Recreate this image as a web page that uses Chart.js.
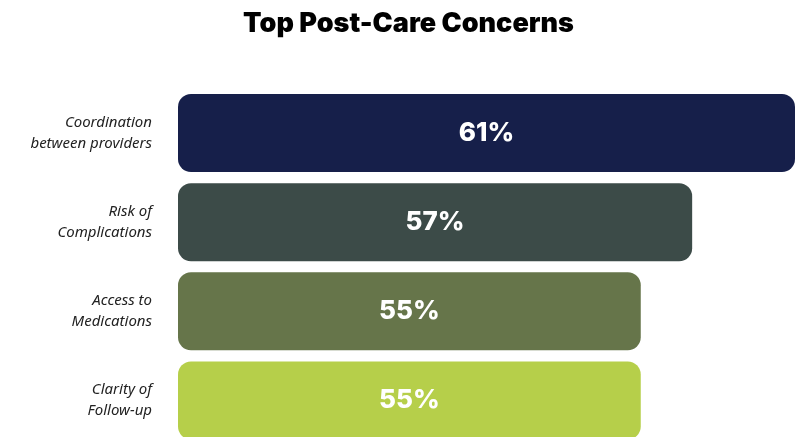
<!DOCTYPE html>
<html>
<head>
<meta charset="utf-8">
<script src="https://cdn.jsdelivr.net/npm/chart.js@4"></script>
<style>
  html, body { margin: 0; padding: 0; overflow: hidden; background: #fff; }
  canvas { display: block; }
</style>
</head>
<body>
<canvas id="myChart" width="795" height="492"></canvas>
<script>
// chart data
const categories = [
    ["Coordination", "between providers"],
    ["Risk of", "Complications"],
    ["Access to", "Medications"],
    ["Clarity of", "Follow-up"]
]
const values = [61, 57, 55, 55]
const barColors = ["#161f4a", "#3c4b48", "#66754a", "#b6cf4a"]
// value axis does not start at zero in the original
const axisMin = 37
const axisMax = 61

// writes the percent in the middle of each bar
const valueLabels = {
    id: "valueLabels",
    afterDatasetsDraw(chart) {
        const ctx = chart.ctx
        const meta = chart.getDatasetMeta(0)
        ctx.save()
        ctx.fillStyle = "#ffffff"
        ctx.font = "800 26px Inter"
        ctx.textAlign = "center"
        ctx.textBaseline = "middle"
        for (var i = 0; i < meta.data.length; i++) {
            var bar = meta.data[i]
            var cx = (bar.x + bar.base) / 2
            ctx.fillText(values[i] + "%", cx, bar.y)
        }
        ctx.restore()
    }
}

let myChart = document.getElementById("myChart").getContext("2d")

let chart = new Chart(myChart, {
    type: "bar",
    data: {
        labels: categories,
        datasets: [{
            data: values,
            base: axisMin,
            backgroundColor: barColors,
            borderRadius: 13,
            borderSkipped: false,
            barPercentage: 0.876,
            categoryPercentage: 1
        }]
    },
    options: {
        indexAxis: "y",
        responsive: false,
        animation: false,
        layout: { padding: { left: 22 } },
        plugins: {
            legend: { display: false },
            tooltip: { enabled: false },
            title: {
                display: true,
                text: "Top Post-Care Concerns",
                color: "#000",
                font: { family: "Inter", size: 27, weight: 900, lineHeight: 1.2 },
                padding: { top: 7.5, bottom: 48.6 }
            }
        },
        scales: {
            x: {
                display: false,
                min: axisMin,
                max: axisMax
            },
            y: {
                grid: { display: false, drawTicks: false },
                border: { display: false },
                ticks: {
                    color: "#222",
                    padding: 26,
                    font: { family: "Noto Sans", size: 15, style: "italic", lineHeight: 1.4 }
                },
                afterFit(scale) {
                    scale.width = 156
                }
            }
        }
    },
    plugins: [valueLabels]
})
</script>
</body>
</html>
